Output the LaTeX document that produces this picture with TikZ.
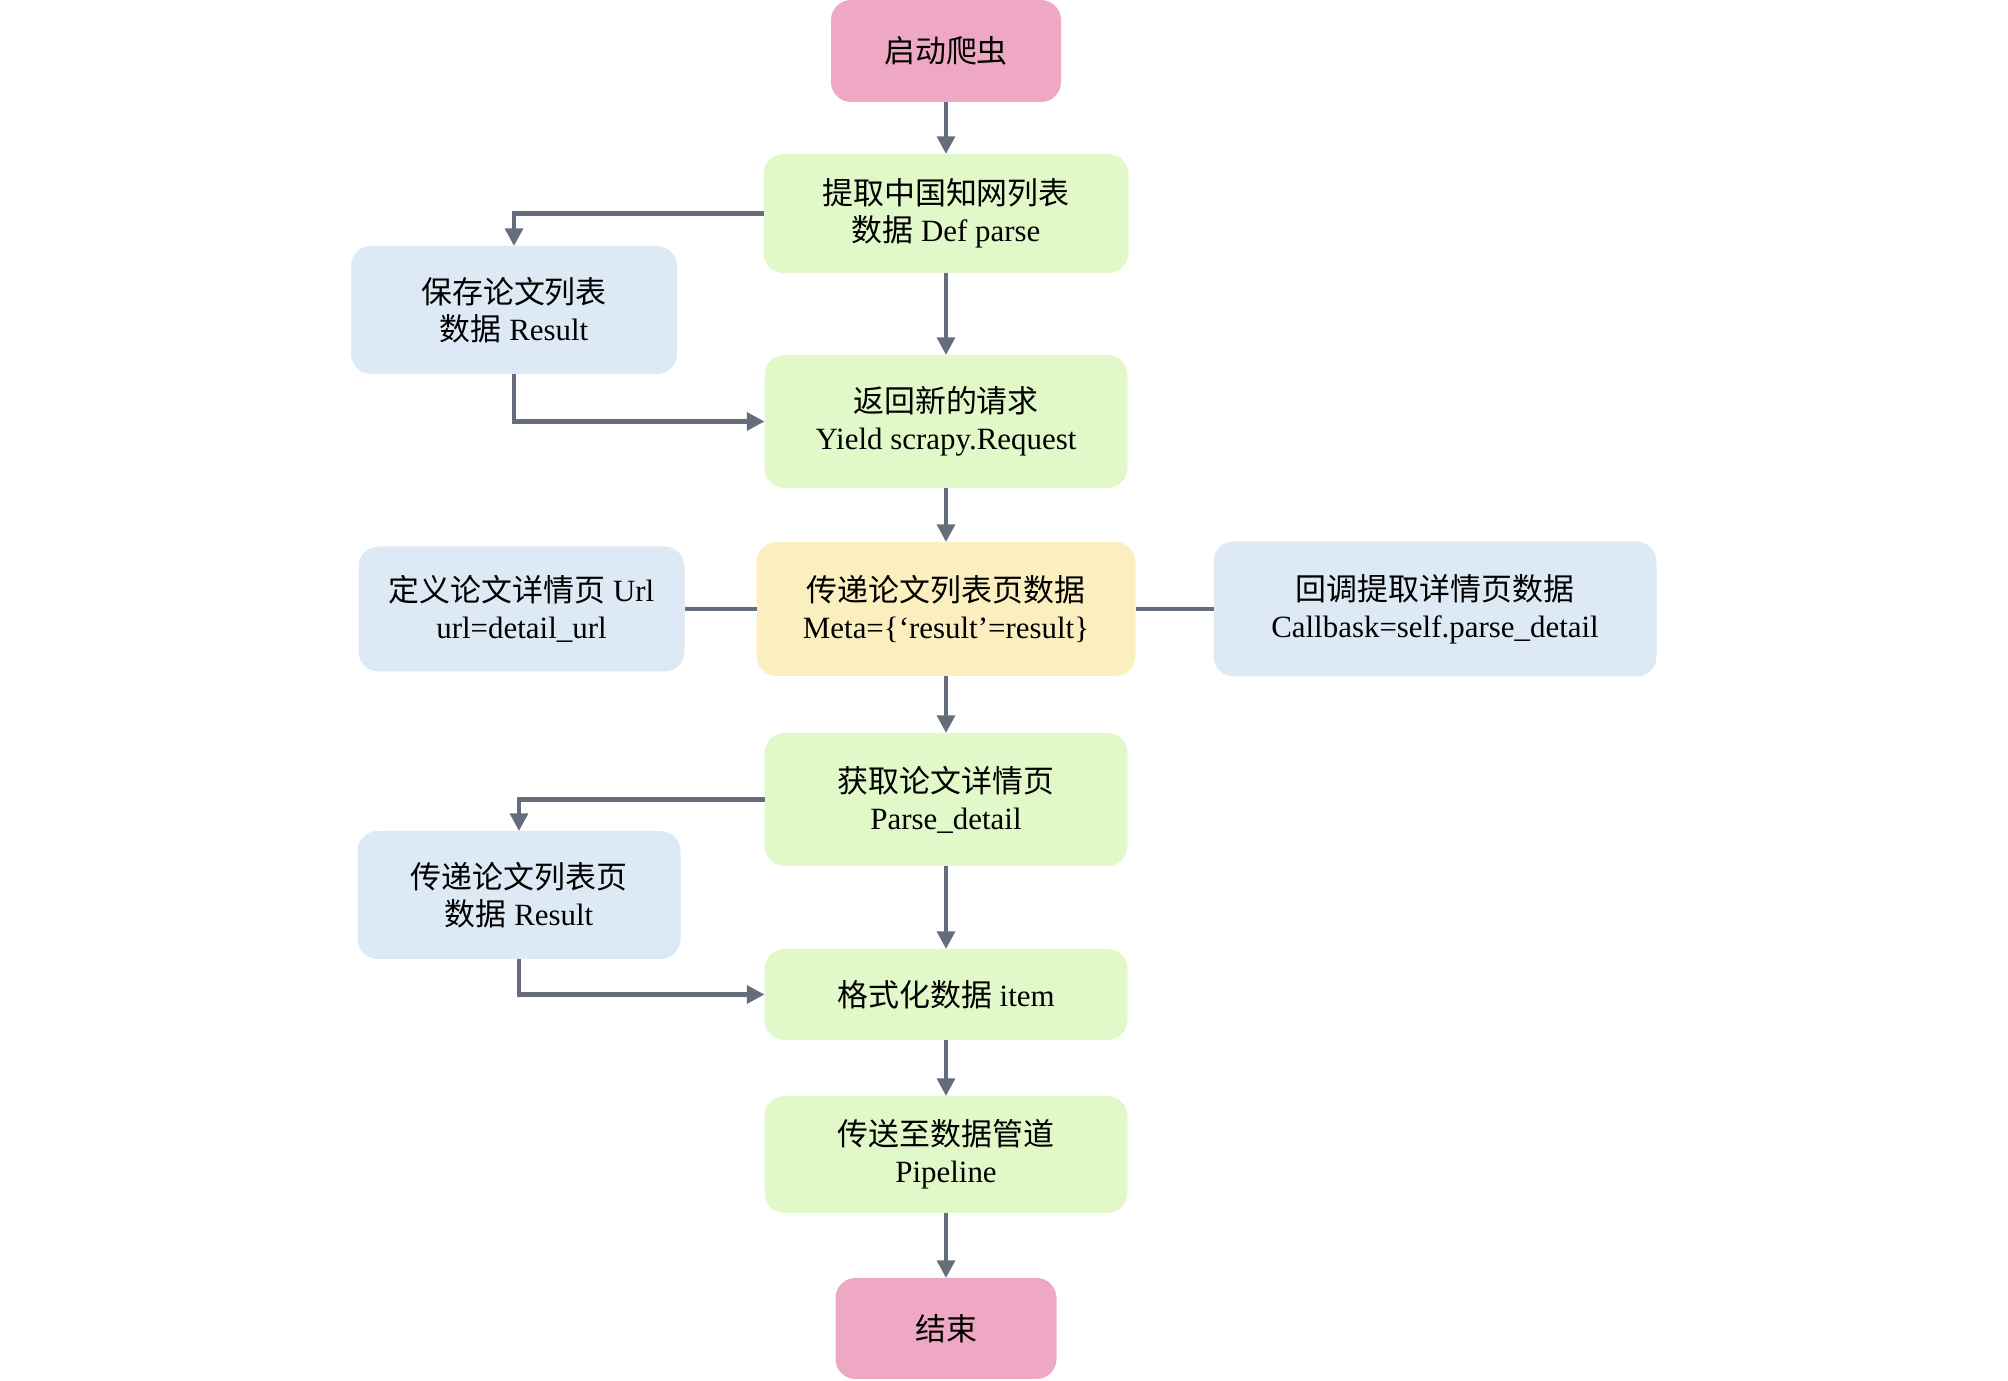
\documentclass[tikz,border=0pt]{standalone}
\usepackage{fontspec}
\setmainfont{Liberation Serif}
\newfontfamily\cjk{Noto Sans CJK SC}
\usepackage{tikz}
\usetikzlibrary{positioning, arrows.meta}
\definecolor{pinkfill}{HTML}{EFA8C3}
\definecolor{greenfill}{HTML}{E1F9C9}
\definecolor{bluefill}{HTML}{DDEAF5}
\definecolor{yellowfill}{HTML}{FBEFC0}
\definecolor{linegray}{HTML}{656D7D}
\newcommand{\zh}[1]{{\cjk #1}}

\begin{document}
\begin{tikzpicture}[
    >={Triangle[length=5pt, width=5pt]}, node distance=0.55cm,
    base/.style={rounded corners=0.2cm, align=center, inner sep=2pt, outer sep=0pt, font=\fontsize{8.8}{10.5}\selectfont},
    term/.style={base, fill=pinkfill, minimum width=2.3cm, minimum height=1.02cm},
    proc/.style={base, fill=greenfill, minimum width=3.63cm, minimum height=1.33cm},
    side/.style={base, fill=bluefill, minimum width=3.26cm, minimum height=1.28cm},
    link/.style={draw=linegray, line width=1.2pt}
]
\useasboundingbox (0,0) rectangle (20.08,-13.81);

% Colonna principale
\node[term] (start) at (9.46,-0.51) {\zh{启动爬虫}};
\node[proc, minimum width=3.65cm, minimum height=1.19cm, below=0.52 of start] (list) {\zh{提取中国知网列表}\\\zh{数据} Def parse};
\node[proc, below=0.82 of list] (req) {\zh{返回新的请求}\\Yield scrapy.Request};
\node[proc, fill=yellowfill, minimum width=3.79cm, minimum height=1.34cm, below=0.54 of req] (meta) {\zh{传递论文列表页数据}\\Meta=\{‘result’=result\}};
\node[proc, below=0.57 of meta] (parse) {\zh{获取论文详情页}\\Parse\_detail};
\node[proc, minimum height=0.91cm, below=0.83 of parse] (item) {\zh{格式化数据} item};
\node[proc, minimum height=1.17cm, below=0.56 of item] (pipe) {\zh{传送至数据管道}\\Pipeline};
\node[term, minimum width=2.21cm, minimum height=1.01cm, below=0.65 of pipe] (end) {\zh{结束}};

% Blocchi laterali
\node[side] (save) at (5.14,-3.10) {\zh{保存论文列表}\\\zh{数据} Result};
\node[side, minimum height=1.25cm, left=0.72 of meta] (url) {\zh{定义论文详情页} Url\\url=detail\_url};
\node[side, minimum width=4.43cm, minimum height=1.35cm, right=0.78 of meta] (callback) {\zh{回调提取详情页数据}\\Callbask=self.parse\_detail};
\node[side, minimum width=3.23cm] (pass) at (5.19,-8.95) {\zh{传递论文列表页}\\\zh{数据} Result};

% Frecce
\draw[link, ->] (start) -- (list);
\draw[link, ->] (list) -- (req);
\draw[link, ->] (req) -- (meta);
\draw[link, ->] (meta) -- (parse);
\draw[link, ->] (parse) -- (item);
\draw[link, ->] (item) -- (pipe);
\draw[link, ->] (pipe) -- (end);
\draw[link, ->] (list.west) -| (save.north);
\draw[link, ->] (save.south) |- (req.west);
\draw[link, ->] (parse.west) -| (pass.north);
\draw[link, ->] (pass.south) |- (item.west);
\draw[link] (url) -- (meta);
\draw[link] (meta) -- (callback);

\end{tikzpicture}
\end{document}
